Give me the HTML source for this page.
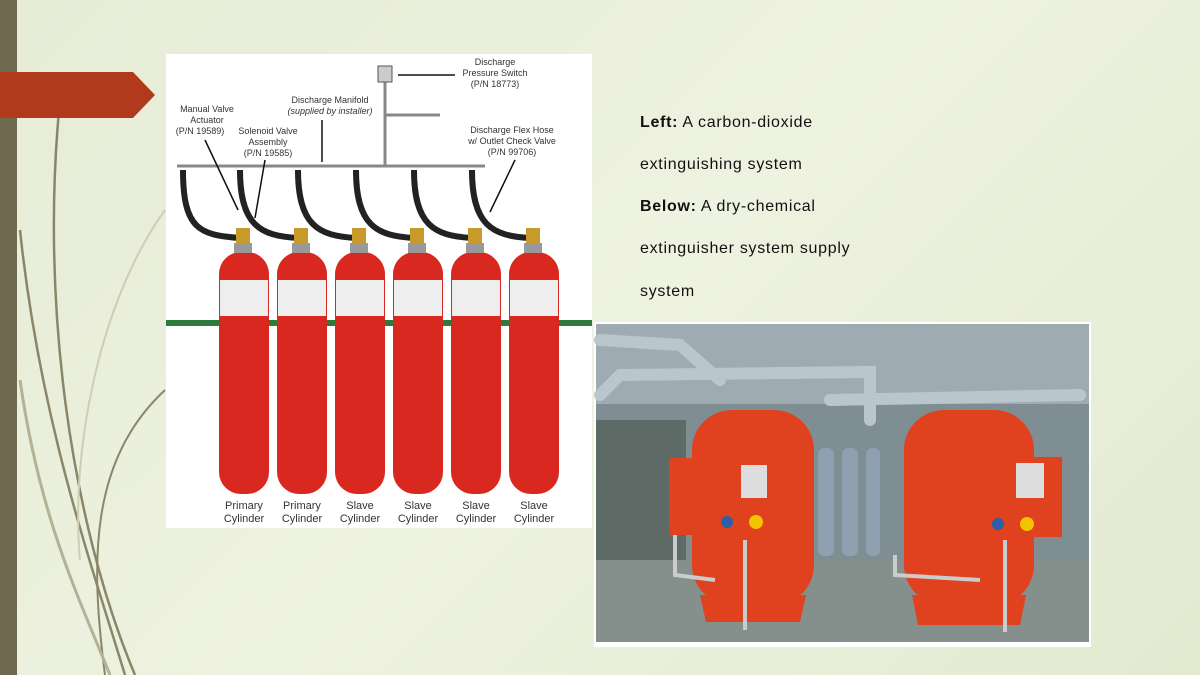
<!DOCTYPE html>
<html><head><meta charset="utf-8"><style>
html,body{margin:0;padding:0}
body{width:1200px;height:675px;overflow:hidden;position:relative;background:linear-gradient(135deg,#e6ecd6 0%,#eef2e0 50%,#e3ead0 100%);font-family:"Liberation Sans",sans-serif}
.t{position:absolute;left:640px;font-size:16px;color:#111;letter-spacing:0.7px}
</style></head><body>
<svg width="1200" height="675" style="position:absolute;left:0;top:0">
<rect x="0" y="0" width="17" height="675" fill="#6f6a4f"/>
<g fill="none" stroke="#7a7456" stroke-width="2.5" opacity="0.85">
<path d="M60 100 C40 300 70 520 135 675"/>
<path d="M20 230 C40 420 90 560 125 675"/>
<path d="M165 390 C90 460 90 560 105 675" stroke-width="2"/>
<path d="M20 380 C40 520 80 600 110 675" stroke="#a9a88c" stroke-width="3"/>
<path d="M165 210 C100 300 70 450 80 560" stroke="#c9c9ac" stroke-width="2"/>
</g>
<polygon points="0,72 133,72 155,95 133,118 0,118" fill="#b23a1c"/>
<rect x="166" y="54" width="426" height="474" fill="#fff"/>
<g stroke="#888" stroke-width="3" fill="none">
<line x1="177" y1="166" x2="485" y2="166"/>
<line x1="385" y1="80" x2="385" y2="166"/>
<line x1="385" y1="115" x2="440" y2="115"/>
</g>
<rect x="378" y="66" width="14" height="16" fill="#ccc" stroke="#555"/>
<g stroke="#222" stroke-width="6" fill="none">
<path d="M183 170 C183 230 200 235 240 238"/>
<path d="M240 170 C240 225 260 236 298 238"/>
<path d="M298 170 C298 225 318 236 356 238"/>
<path d="M356 170 C356 225 376 236 414 238"/>
<path d="M414 170 C414 225 434 236 472 238"/>
<path d="M472 170 C472 225 492 236 530 238"/>
</g>
<rect x="166" y="320" width="426" height="6" fill="#2d7a3a"/>
<g fill="#d9281f">
<rect x="219" y="252" width="50" height="242" rx="22"/>
<rect x="277" y="252" width="50" height="242" rx="22"/>
<rect x="335" y="252" width="50" height="242" rx="22"/>
<rect x="393" y="252" width="50" height="242" rx="22"/>
<rect x="451" y="252" width="50" height="242" rx="22"/>
<rect x="509" y="252" width="50" height="242" rx="22"/>
</g>
<g fill="#eee">
<rect x="220" y="280" width="48" height="36"/><rect x="278" y="280" width="48" height="36"/><rect x="336" y="280" width="48" height="36"/><rect x="394" y="280" width="48" height="36"/><rect x="452" y="280" width="48" height="36"/><rect x="510" y="280" width="48" height="36"/>
</g>
<g fill="#c89a2a">
<rect x="236" y="228" width="14" height="16"/><rect x="294" y="228" width="14" height="16"/><rect x="352" y="228" width="14" height="16"/><rect x="410" y="228" width="14" height="16"/><rect x="468" y="228" width="14" height="16"/><rect x="526" y="228" width="14" height="16"/>
</g>
<g fill="#999"><rect x="234" y="243" width="18" height="10"/><rect x="292" y="243" width="18" height="10"/><rect x="350" y="243" width="18" height="10"/><rect x="408" y="243" width="18" height="10"/><rect x="466" y="243" width="18" height="10"/><rect x="524" y="243" width="18" height="10"/></g>
<g stroke="#111" stroke-width="1.5">
<line x1="205" y1="140" x2="238" y2="210"/><line x1="265" y1="160" x2="255" y2="218"/><line x1="322" y1="120" x2="322" y2="162"/><line x1="455" y1="75" x2="398" y2="75"/><line x1="515" y1="160" x2="490" y2="212"/>
</g>
<g font-family="Liberation Sans,sans-serif" font-size="9" fill="#333" text-anchor="middle">
<text x="495" y="65">Discharge</text><text x="495" y="76">Pressure Switch</text><text x="495" y="87">(P/N 18773)</text>
<text x="330" y="103">Discharge Manifold</text><text x="330" y="114" font-style="italic">(supplied by installer)</text>
<text x="207" y="112">Manual Valve</text><text x="207" y="123">Actuator</text><text x="200" y="134">(P/N 19589)</text>
<text x="268" y="134">Solenoid Valve</text><text x="268" y="145">Assembly</text><text x="268" y="156">(P/N 19585)</text>
<text x="512" y="133">Discharge Flex Hose</text><text x="512" y="144">w/ Outlet Check Valve</text><text x="512" y="155">(P/N 99706)</text>
</g>
<g font-family="Liberation Sans,sans-serif" font-size="11" fill="#333" text-anchor="middle">
<text x="244" y="509">Primary</text><text x="244" y="522">Cylinder</text>
<text x="302" y="509">Primary</text><text x="302" y="522">Cylinder</text>
<text x="360" y="509">Slave</text><text x="360" y="522">Cylinder</text>
<text x="418" y="509">Slave</text><text x="418" y="522">Cylinder</text>
<text x="476" y="509">Slave</text><text x="476" y="522">Cylinder</text>
<text x="534" y="509">Slave</text><text x="534" y="522">Cylinder</text>
</g>
<rect x="594" y="322" width="497" height="325" fill="#fff"/>
<rect x="596" y="324" width="493" height="318" fill="#7f8e93"/>
<rect x="596" y="324" width="493" height="80" fill="#9eabb0"/>
<rect x="596" y="560" width="493" height="82" fill="#858f8b"/>
<rect x="596" y="420" width="90" height="140" fill="#5e6a66"/>
<g stroke="#b9c6cc" stroke-width="12" fill="none" stroke-linecap="round">
<path d="M600 395 L620 375 L870 372 L870 420"/>
<path d="M830 400 L1080 395"/>
<path d="M600 340 L680 345 L720 380"/>
</g>
<g fill="#8fa0b0"><rect x="818" y="448" width="16" height="108" rx="6"/><rect x="842" y="448" width="16" height="108" rx="6"/><rect x="866" y="448" width="14" height="108" rx="6"/></g>
<g fill="#e0411f">
<rect x="692" y="410" width="122" height="195" rx="40"/>
<rect x="904" y="410" width="130" height="195" rx="40"/>
<polygon points="700,595 806,595 800,622 706,622"/>
<polygon points="912,595 1026,595 1020,625 918,625"/>
<rect x="669" y="458" width="117" height="77"/>
<rect x="939" y="457" width="123" height="80"/>
</g>
<rect x="741" y="465" width="26" height="33" fill="#ddd"/>
<rect x="1016" y="463" width="28" height="35" fill="#ddd"/>
<g fill="#f2c400"><circle cx="756" cy="522" r="7"/><circle cx="1027" cy="524" r="7"/></g>
<g fill="#2b5fa8"><circle cx="727" cy="522" r="6"/><circle cx="998" cy="524" r="6"/></g>
<g stroke="#ccc" stroke-width="4" fill="none">
<path d="M675 535 L675 575 L715 580"/><path d="M745 540 L745 630"/><path d="M895 555 L895 575 L980 580"/><path d="M1005 540 L1005 632"/>
</g>
</svg>
<div class="t" style="top:114px"><b>Left:</b> A carbon-dioxide</div>
<div class="t" style="top:156px">extinguishing system</div>
<div class="t" style="top:198px"><b>Below:</b> A dry-chemical</div>
<div class="t" style="top:240px">extinguisher system supply</div>
<div class="t" style="top:283px">system</div>
</body></html>
